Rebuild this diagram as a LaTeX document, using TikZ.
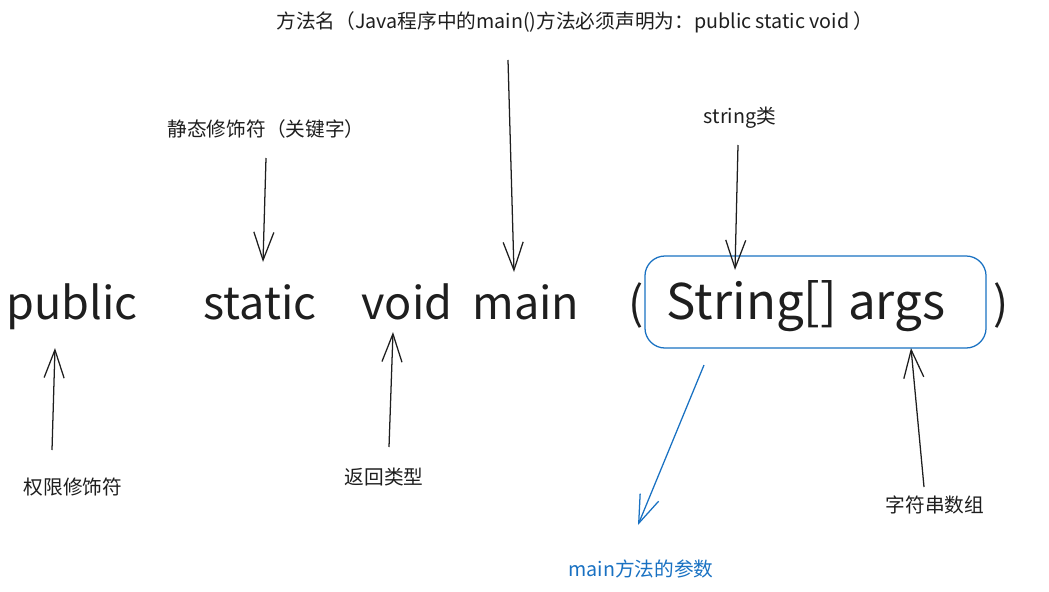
\documentclass[tikz,border=0pt]{standalone}
\usepackage{fontspec}
\setmainfont{Noto Sans CJK SC}
\usetikzlibrary{positioning,arrows.meta}
\definecolor{ink}{HTML}{1E1E1E}
\definecolor{exblue}{HTML}{1971C2}
\tikzset{
  code/.style={font=\fontsize{32}{38}\selectfont, text=ink, inner sep=0pt, anchor=base},
  lbl/.style={font=\fontsize{14}{17}\selectfont, text=ink, inner sep=0pt},
  arr/.style={-{Straight Barb[length=7mm,width=5mm]}, ink, line width=0.9pt},
}

\begin{document}
\begin{tikzpicture}[x=0.025cm,y=-0.025cm]
        \useasboundingbox (0,0) rectangle (1049,591);
        % the method header
        \node[code] (pub) at (72,319) {public};
        \node[code] (stat) at (260,319) {static};
        \node[code] (vd) at (407,319) {void};
        \node[code] (mn) at (526,319) {main};
        \node[code] (lpar) at (636,319) {(};
        \node[code, font=\fontsize{35}{40}\selectfont] (args) at (806,319) {String[] args};
        \node[code] (rpar) at (1001,319) {)};
        \node[draw=exblue, line width=0.9pt, rounded corners=0.5cm, minimum width=8.525cm, minimum height=2.3cm] (argbox) at (815.5,302) {};

        % labels
        \node[lbl] (mnlbl) at (575,22) {方法名（Java程序中的main()方法必须声明为：public static void ）};
        \node[lbl] (statlbl) at (266,129) {静态修饰符（关键字）};
        \node[lbl] (strlbl) at (740,118) {string类};
        \node[lbl] (publbl) at (73,487) {权限修饰符};
        \node[lbl] (vdlbl) at (384,477) {返回类型};
        \node[lbl] (argslbl) at (935,505) {字符串数组};
        \node[lbl, text=exblue] (parlbl) at (641,569) {main方法的参数};

        % arrow ends
        \coordinate (mnA) at (508,60);   \coordinate (mnB) at (514,272);
        \coordinate (statA) at (266,158); \coordinate (statB) at (263,262);
        \coordinate (strA) at (738,145);  \coordinate (strB) at (735,270);
        \coordinate (pubA) at (52,450);   \coordinate (pubB) at (55,348);
        \coordinate (vdA) at (389,447);   \coordinate (vdB) at (393,332);
        \coordinate (argsA) at (924,487); \coordinate (argsB) at (911,348);
        \coordinate (parA) at (704,365);  \coordinate (parB) at (638,525);

        \draw[arr] (mnA) -- (mnB);
        \draw[arr] (statA) -- (statB);
        \draw[arr] (strA) -- (strB);
        \draw[arr] (pubA) -- (pubB);
        \draw[arr] (vdA) -- (vdB);
        \draw[arr] (argsA) -- (argsB);
        \draw[arr, exblue] (parA) -- (parB);
    \end{tikzpicture}
\end{document}
